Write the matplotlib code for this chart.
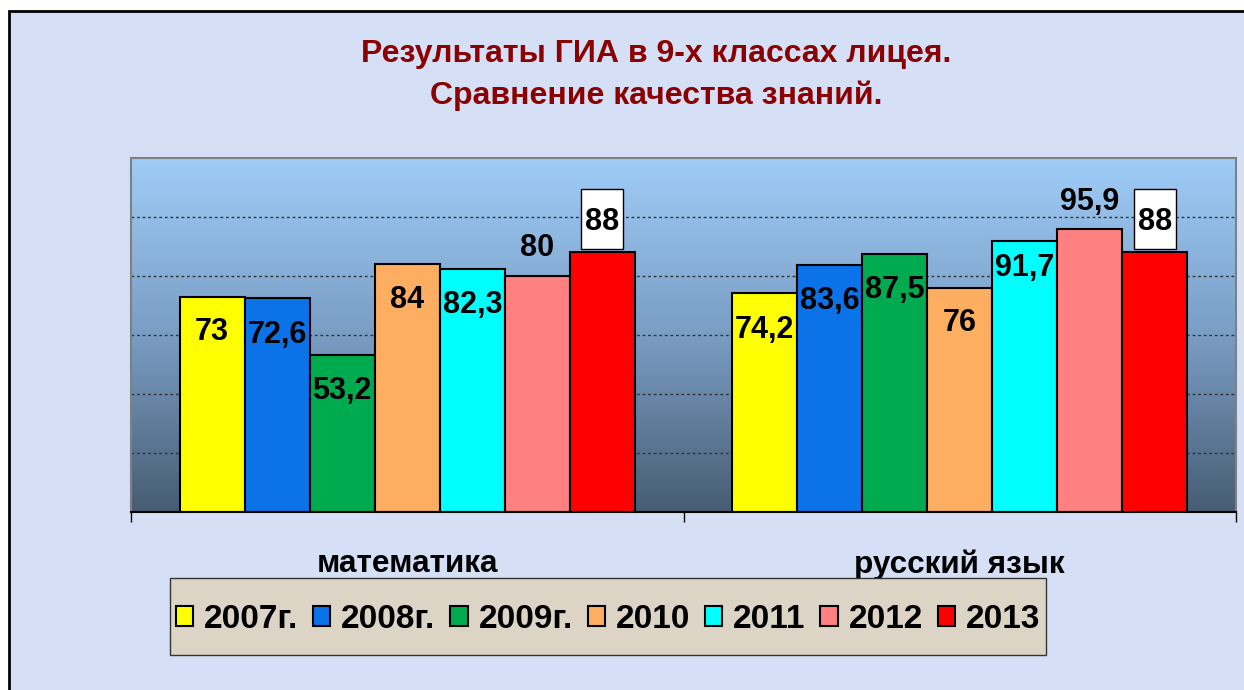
import numpy as np
import matplotlib
matplotlib.use('Agg')
from matplotlib import pyplot as plt
from matplotlib.patches import Rectangle, Patch
from matplotlib.colors import LinearSegmentedColormap

# данные
categories = ['математика', 'русский язык']
years = ['2007г.', '2008г.', '2009г.', '2010', '2011', '2012', '2013']
math_vals = [73, 72.6, 53.2, 84, 82.3, 80, 88]
rus_vals = [74.2, 83.6, 87.5, 76, 91.7, 95.9, 88]

# оформление
colors = ['#FFFF00', '#0B72E8', '#00AA4F', '#FDAE60', '#00FFFF', '#FF8080', '#FF0000']
label_dy = [[-11, -11.5, -11.3, -11, -11, 10.5, 11.3],
            [-11.4, -11.2, -11.1, -10.9, -8, 10.1, 11.3]]
boxed = [False, False, False, False, False, False, True]

W, H = 1244, 690
FONT = 'Liberation Sans'
plt.rcParams['font.family'] = [FONT, 'DejaVu Sans']

fig = plt.figure(figsize=(W / 100, H / 100), dpi=100, facecolor='white')

# фон слайда с рамкой
fig.patches.append(Rectangle((9 / W, -0.1), 1.2, 1 - 11 / H + 0.1, transform=fig.transFigure,
                             facecolor='#D5DFF5', edgecolor='black', lw=2, zorder=-10))

ax_l, ax_r, ax_t, ax_b = 131, 1236, 158, 512
ax = fig.add_axes([ax_l / W, 1 - ax_b / H, (ax_r - ax_l) / W, (ax_b - ax_t) / H])
ax.set_xlim(0, 2)
ax.set_ylim(0, 120)
px_x = (ax_r - ax_l) / 2.0   # пикселей на единицу по x
px_y = (ax_b - ax_t) / 120.0  # пикселей на единицу по y

# градиент области построения
cmap = LinearSegmentedColormap.from_list('bg', ['#475C73', '#7A9DC4', '#9FCDF8'])
grad = np.linspace(0, 1, 256).reshape(-1, 1)
ax.imshow(grad, extent=[0, 2, 0, 120], aspect='auto', origin='lower', cmap=cmap, zorder=-1)

ax.set_yticks([20, 40, 60, 80, 100])
ax.yaxis.grid(True, linestyle=(0, (2, 2)), color='#333333', lw=1)
ax.set_axisbelow(True)
ax.tick_params(axis='y', left=False, labelleft=False)

bar_w = 65 / px_x
centers = np.array([0.5, 1.5])
groups = [math_vals, rus_vals]
for i, (yr, col) in enumerate(zip(years, colors)):
    xs = centers + (i - 3) * bar_w
    vals = [g[i] for g in groups]
    ax.bar(xs, vals, width=bar_w, color=col, edgecolor='black', lw=1.5, zorder=2)
    for gi, (x, v) in enumerate(zip(xs, vals)):
        yc = v + label_dy[gi][i]
        txt = ('%g' % v).replace('.', ',')
        if boxed[i]:
            ax.add_patch(Rectangle((x - 21 / px_x, yc - 30 / px_y), 42 / px_x, 60 / px_y,
                                   facecolor='white', edgecolor='black', lw=1, zorder=3))
        ax.text(x, yc - 11 / px_y, txt, ha='center', va='baseline', fontsize=22,
                fontweight='bold', color='black', zorder=4)

# ось категорий
ax.set_xticks([0, 1, 2], minor=True)
ax.set_xticks(centers, labels=categories)
ax.tick_params(axis='x', which='minor', length=7.2, width=1, direction='out', color='black')
ax.tick_params(axis='x', which='major', length=0, pad=27, labelsize=22.7)
for lbl in ax.get_xticklabels():
    lbl.set_fontweight('bold')

ax.spines['bottom'].set_color('black')
ax.spines['bottom'].set_linewidth(1.5)
for s in ['top', 'left', 'right']:
    ax.spines[s].set_color('#808080')
    ax.spines[s].set_linewidth(1.5)

# заголовок
fig.text(656 / W, 1 - 54 / H, 'Результаты ГИА в 9-х классах лицея.', ha='center', va='center',
         fontsize=23, fontweight='bold', color='#8B0000')
fig.text(656 / W, 1 - 96 / H, 'Сравнение качества знаний.', ha='center', va='center',
         fontsize=23, fontweight='bold', color='#8B0000')

# легенда
lx0, lx1, ly0, ly1 = 170, 1046, 578, 655
fig.patches.append(Rectangle((lx0 / W, 1 - ly1 / H), (lx1 - lx0) / W, (ly1 - ly0) / H,
                             transform=fig.transFigure, facecolor='#DCD5C6',
                             edgecolor='#333333', lw=1, zorder=1))
handles = [Patch(facecolor=c, edgecolor='black', lw=1.5) for c in colors]
fig.legend(handles, years, loc='center', bbox_to_anchor=((lx0 + lx1) / 2 / W, 1 - (ly0 + ly1 + 6) / 2 / H),
           ncol=7, frameon=False, prop={'family': FONT, 'weight': 'bold', 'size': 24},
           handlelength=0.52, handleheight=0.52, handletextpad=0.32, columnspacing=0.45,
           borderpad=0, borderaxespad=0)

fig.savefig('out.png', dpi=100)
